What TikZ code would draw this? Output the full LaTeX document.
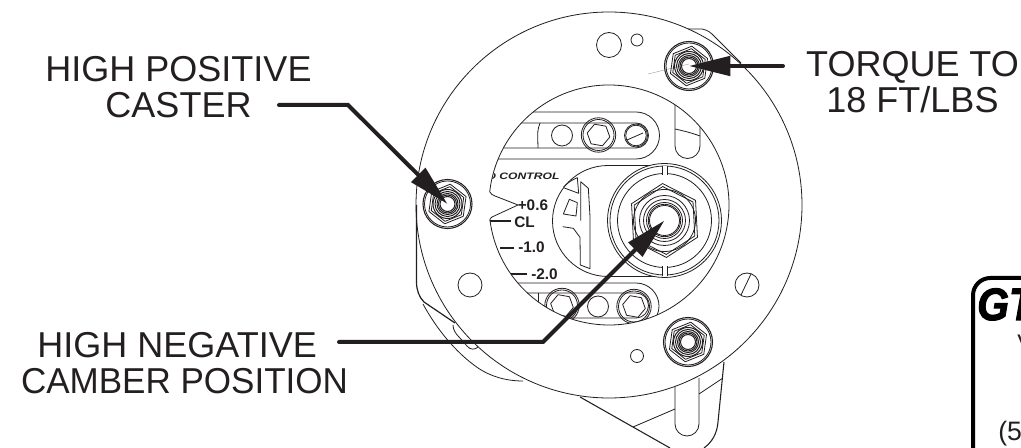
\documentclass[tikz,border=0pt]{standalone}
\usepackage{fontspec}
\setmainfont{Liberation Sans}
\newfontfamily\logofont[FakeBold=2.5]{Liberation Sans Bold Italic}
\usetikzlibrary{arrows.meta}
\definecolor{ink}{HTML}{231F20}
\tikzset{
  plateline/.style={draw=ink,line width=0.6pt,line join=round},
  heavyline/.style={draw=ink,line width=1pt},
  bigtext/.style={inner sep=0pt,align=center,text=ink,font=\fontsize{27}{27}\selectfont},
  scaletext/.style={inner sep=0pt,text=ink,font=\fontsize{11.5}{11.5}\selectfont\bfseries,anchor=west},
  callout/.style={draw=ink,line width=3pt,line cap=round,line join=miter,
    -{Triangle[length=31pt,width=14.5pt]}},
  pics/fastener/.style={code={
    \draw[plateline,line width=0.8pt] (0,0) circle[radius=24.5];
    \draw[plateline] (0,0) circle[radius=23];
    \draw[plateline] (38:20)--(98:20)--(158:20)--(218:20)--(278:20)--(338:20)--cycle;
    \draw[plateline] (38:17.5)--(98:17.5)--(158:17.5)--(218:17.5)--(278:17.5)--(338:17.5)--cycle;
    \foreach \r in {14.5,12.5,10.5,9,7.5}{\draw[plateline,line width=0.75pt] (0,0) circle[radius=\r];}
  }},
  pics/sockethead/.style={code={
    \draw[plateline] (0,0) circle[radius=17.2];
    \draw[plateline] (0,0) circle[radius=15.5];
    \draw[plateline] (10:11.5)--(70:11.5)--(130:11.5)--(190:11.5)--(250:11.5)--(310:11.5)--cycle;
  }}
}
\begin{document}
\begin{tikzpicture}[x=0.75pt,y=-0.75pt]
\clip (0,0) rectangle (1021,448);
\fill[white] (0,0) rectangle (1021,448);
\coordinate (C) at (609,205);
\coordinate (boltTop) at (689,66);
\coordinate (boltLeft) at (447.5,204);
\coordinate (boltLow) at (688,342);
\coordinate (centreBolt) at (664.5,220.5);

% bracket behind the plate
\draw[plateline] (688,29) -- (702,29) .. controls (708,30) and (711,33) .. (714,36) -- (741,63);
\draw[plateline,line width=0.9pt] (416.5,205) -- (416.5,282) .. controls (416.5,290) and (419,297) .. (424,302) -- (455,323);
\draw[plateline] (423,304) .. controls (436,328) and (455,352) .. (478,368) .. controls (490,376) and (505,381) .. (523,381);
\draw[plateline] (453,325) .. controls (453,330) and (456,334) .. (459,337) -- (467,346) .. controls (470,350) and (475,350) .. (478,347);
\draw[plateline,line width=0.8pt] (580,397) -- (670,448);
\draw[plateline,line width=0.8pt] (724,362) -- (718,422) .. controls (717,434) and (712,442) .. (704,448);
\draw[plateline] (675,387) -- (675,424) arc[start angle=180,end angle=0,radius=12] -- (699,378);
\draw[plateline] (633,427) -- (675,409);
\draw[plateline] (699,394) -- (723,378);

% plate
\draw[plateline] (C) circle[radius=193];
\draw[plateline] ([shift={(186.2:120)}]C) arc[start angle=186.2,end angle=532.8,radius=120];
\draw[plateline] (490,192) .. controls (491,194) and (492,195) .. (495,196) -- (518,205) -- (492,217) .. controls (490.5,218) and (489.8,219) .. (489.7,220.5);

% holes
\draw[plateline] (609,45) circle[radius=12.5];
\draw[plateline] (637,40) circle[radius=6];
\draw[plateline] (470,285) circle[radius=12];
\draw[plateline] (637,356) circle[radius=6.5];
\draw[plateline] (747,285) circle[radius=12];
\draw[plateline] (741,295) -- (751,274);
\draw[draw=ink!35,line width=0.4pt] (648,74) -- (689,64);

% inside of the inner circle
\begin{scope}
\clip (C) circle[radius=120];
% upper slot
\draw[plateline] (480,112) -- (636,112) arc[start angle=270,end angle=450,radius=23.5] -- (480,159);
\draw[plateline] (480,123) -- (636,123) arc[start angle=270,end angle=450,radius=12.5] -- (480,148);
\draw[plateline] (540,123) .. controls (537.5,130) .. (538,148);
\draw[plateline] (562,135.5) circle[radius=10.5];
\draw[plateline] (636,135.5) circle[radius=11.5];
\draw[plateline] (636,135.5) circle[radius=10.3];
\draw[plateline] (627,140) -- (643,133);
\pic at (598.5,135) {sockethead};
% lower slot
\draw[plateline] (480,283) -- (636,283) arc[start angle=270,end angle=450,radius=23] -- (480,329);
\draw[plateline] (480,293) -- (636,293) arc[start angle=270,end angle=450,radius=12.5] -- (480,318);
\draw[plateline] (538,293) -- (538,306);
\draw[plateline] (598,306.5) circle[radius=10.5];
\pic at (562,305.5) {sockethead};
\pic at (634,306.5) {sockethead};
% slot at the upper right
\draw[plateline] (675,80) -- (675,146) arc[start angle=180,end angle=0,radius=12.5] -- (700,80);
\draw[plateline] (675,129) .. controls (684,131) and (692,133) .. (700,136);
% oblong round the centre bolt
\draw[plateline] (664,165.5) -- (608,165.5) arc[start angle=270,end angle=90,radius=55.5] -- (664,276.5);
% text cut by the inner circle
\node (brand) [inner sep=0pt,text=ink,anchor=west,xscale=1.3,font=\fontsize{7}{7}\selectfont\bfseries\itshape] at (487,176) {D CONTROL};
\end{scope}

% centre bolt
\fill[white] (centreBolt) circle[radius=57];
\begin{scope}[shift={(centreBolt)}]
\foreach \r in {57,54.5,47,31,25,21,18,16.2,15}{\draw[plateline] (0,0) circle[radius=\r];}
\draw[plateline] (27:37)--(87:37)--(147:37)--(207:37)--(267:37)--(327:37)--cycle;
\draw[plateline] (27:34)--(87:34)--(147:34)--(207:34)--(267:34)--(327:34)--cycle;
\end{scope}
\fill[white] (662.5,165.9) rectangle (667.5,175);
\fill[white] (662.5,266) rectangle (667.5,276.1);
\draw[plateline] (662.5,166) -- (662.5,175) (667.5,166) -- (667.5,175);
\draw[plateline] (662.5,266) -- (662.5,276) (667.5,266) -- (667.5,276);

% logo on the plate, in the coordinates of a threefold enlargement
\begin{scope}[shift={(470,130)},x=0.25pt,y=-0.25pt]
\draw[plateline] (280,172) .. controls (292,158) and (306,150) .. (322,143) -- (326,190) -- (283,174);
\draw[plateline] (298,208) -- (322,218) -- (318,258) -- (280,252) -- cycle;
\draw[plateline] (278,290) -- (310,295) -- (330,322) -- (331,405) -- (360,416) -- (360,260) -- (355,175) -- (332,155) -- (332,272);
\end{scope}

% fasteners
\pic at (boltTop) {fastener};
\pic at (boltLeft) {fastener};
\pic at (boltLow) {fastener};

% scale
\draw[heavyline,line width=0.8pt] (490,221) -- (511,221);
\draw[heavyline] (500,248) -- (514,248);
\draw[heavyline,line width=0.8pt] (511,274) -- (527,274);
\node (plusSix) [scaletext] at (517.5,205) {+0.6};
\node (clMark) [scaletext] at (514,222) {CL};
\node (minusOne) [scaletext] at (518,247.5) {-1.0};
\node (minusTwo) [scaletext] at (531,274.5) {-2.0};

% labels
\node (casterLabel) [bigtext] at (178.5,87) {HIGH POSITIVE\\CASTER};
\node (torqueLabel) [bigtext] at (912.5,82.5) {TORQUE TO\\18 FT/LBS};
\node (camberLabel) [bigtext] at (184.5,363) {HIGH NEGATIVE\hspace*{11pt}\\\scalebox{.973}[1]{CAMBER POSITION}};
\coordinate (casterStart) at (279,105);
\coordinate (casterBend) at (348,105);
\coordinate (torqueStart) at (783,66);
\coordinate (camberStart) at (339,342);
\coordinate (camberBend) at (543,342);
\draw[callout] (casterStart) -- (casterBend) -- (boltLeft);
\draw[callout] (torqueStart) -- (boltTop);
\draw[callout] (camberStart) -- (camberBend) -- (centreBolt);

% plate at the lower right, cut by the edge of the picture
\draw[draw=black,line width=3pt,rounded corners=13pt] (973,278) rectangle (1120,470);
\node (gtLogo) [inner sep=0pt,anchor=base west,text=black,xscale=0.9,font=\logofont\fontsize{34}{34}\selectfont] at (977,320) {GT};
\node (vMark) [inner sep=0pt,anchor=base west,text=ink,font=\fontsize{18}{18}\selectfont] at (1017,352) {V};
\node (fiveMark) [inner sep=0pt,anchor=base west,text=ink,font=\fontsize{20}{20}\selectfont] at (998,441) {(5};
\end{tikzpicture}
\end{document}
